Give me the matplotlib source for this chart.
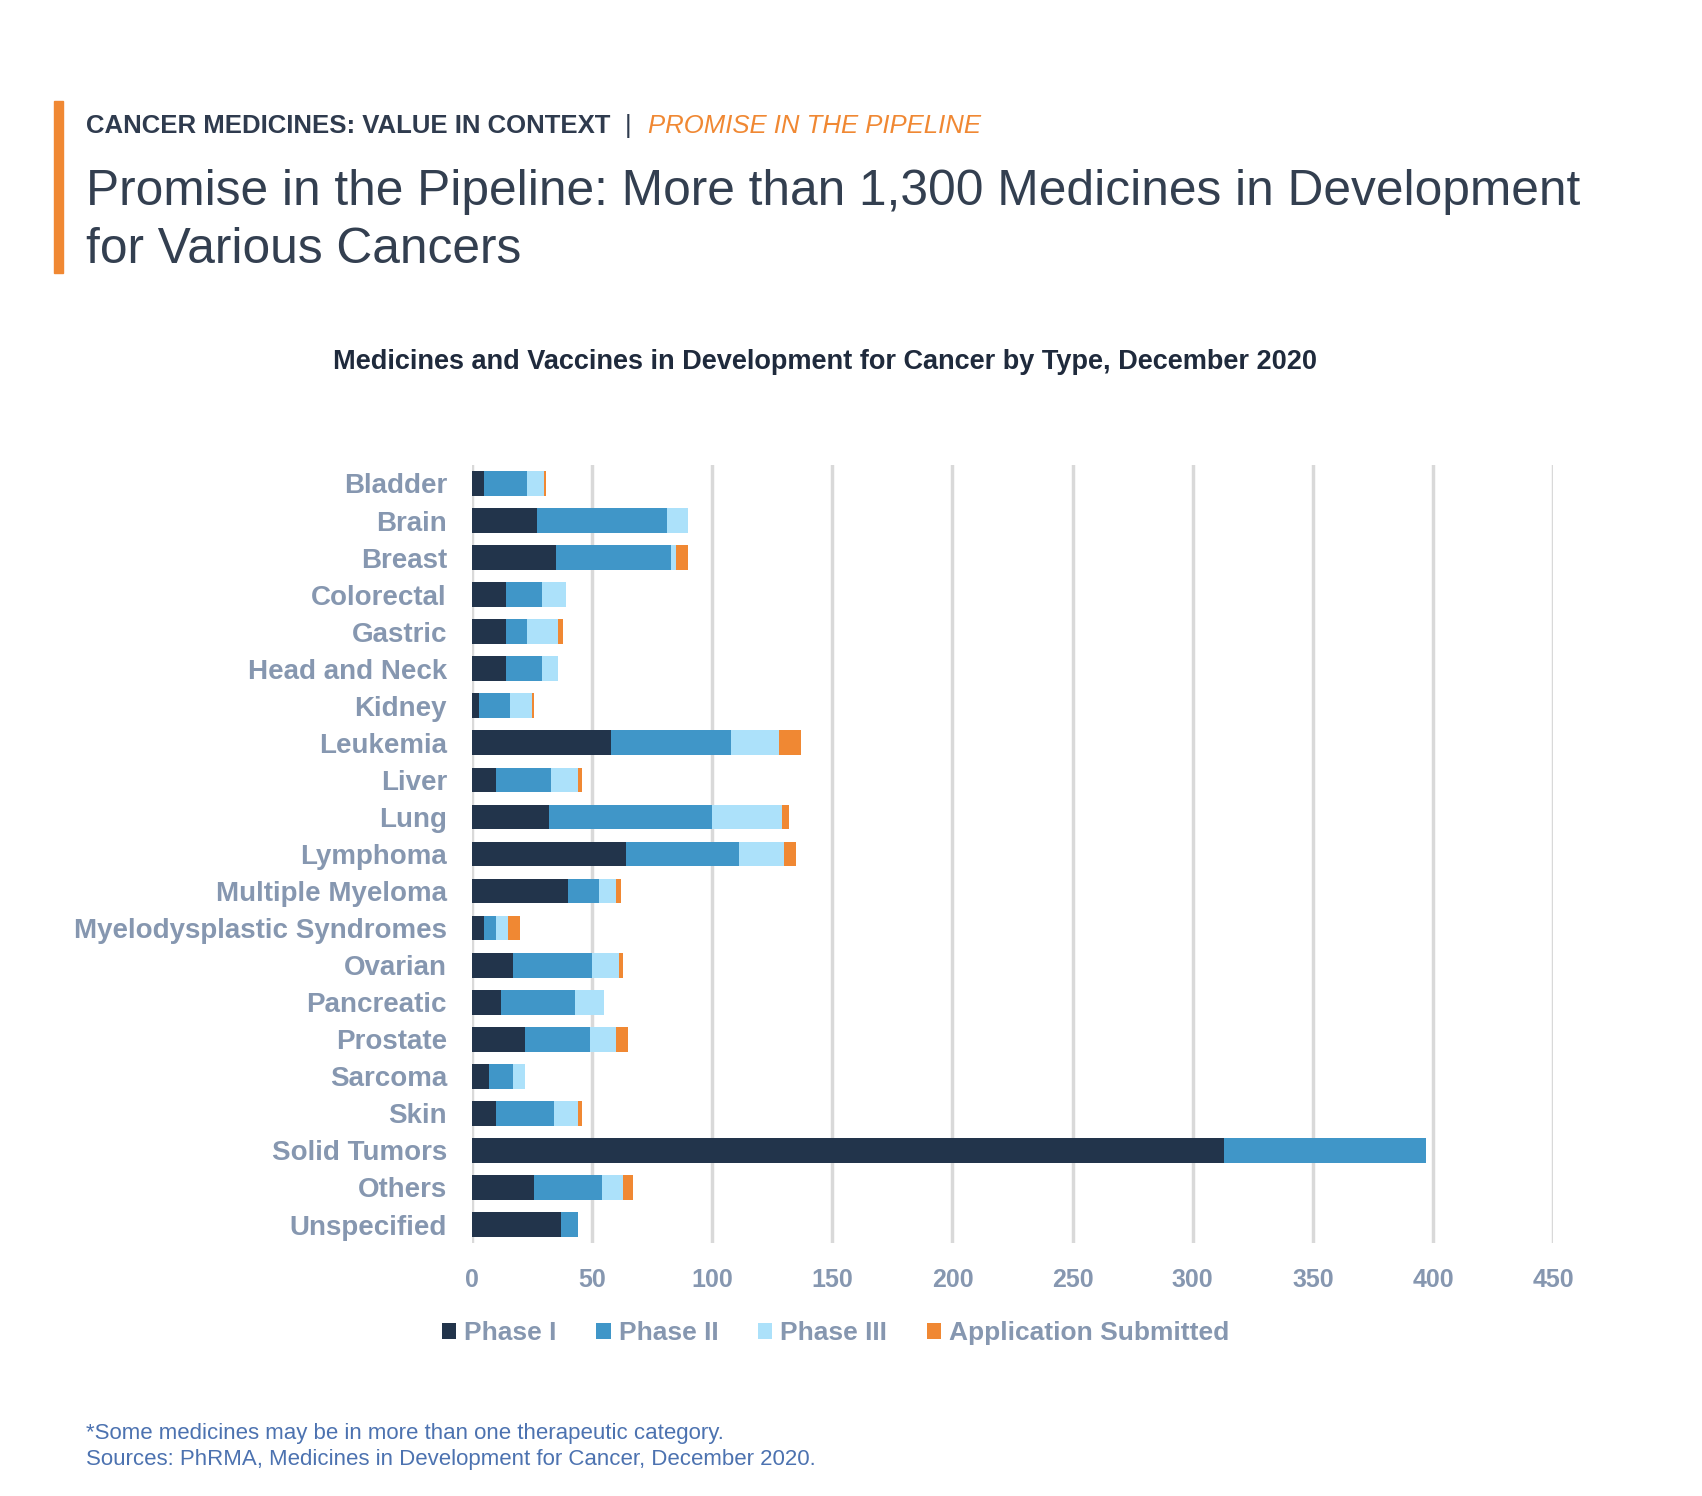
import matplotlib
matplotlib.use("Agg")
import matplotlib.pyplot as plt
import numpy as np

# ----------------------------
# Data
# ----------------------------
cancer_types = ["Bladder", "Brain", "Breast", "Colorectal", "Gastric", "Head and Neck",
                "Kidney", "Leukemia", "Liver", "Lung", "Lymphoma", "Multiple Myeloma",
                "Myelodysplastic Syndromes", "Ovarian", "Pancreatic", "Prostate",
                "Sarcoma", "Skin", "Solid Tumors", "Others", "Unspecified"]
phase_1 = [5, 27, 35, 14, 14, 14, 3, 58, 10, 32, 64, 40, 5, 17, 12, 22, 7, 10, 313, 26, 37]
phase_2 = [18, 54, 48, 15, 9, 15, 13, 50, 23, 68, 47, 13, 5, 33, 31, 27, 10, 24, 84, 28, 7]
phase_3 = [7, 9, 2, 10, 13, 7, 9, 20, 11, 29, 19, 7, 5, 11, 12, 11, 5, 10, 0, 9, 0]
submitted = [1, 0, 5, 0, 2, 0, 1, 9, 2, 3, 5, 2, 5, 2, 0, 5, 0, 2, 0, 4, 0]

series_names = ["Phase I", "Phase II", "Phase III", "Application Submitted"]
series_colors = ["#22344B", "#4096C8", "#ACE1FA", "#F08833"]
x_ticks = [0, 50, 100, 150, 200, 250, 300, 350, 400, 450]

label_gray = "#8697B0"
dark_text = "#2F3B4E"

plt.rcParams["font.family"] = ["Liberation Sans", "DejaVu Sans"]

W, H = 1702, 1496
fig = plt.figure(figsize=(W / 100, H / 100), dpi=100)
ax = fig.add_axes([0.2773, 0.1691, 0.9125 - 0.2773, 0.6892 - 0.1691])

y = np.arange(len(cancer_types))
left = np.zeros(len(cancer_types))
for vals, name, color in zip([phase_1, phase_2, phase_3, submitted], series_names, series_colors):
    vals = np.array(vals, dtype=float)
    ax.barh(y, vals, left=left, height=0.667, color=color, label=name, zorder=3)
    left += vals

ax.set_ylim(len(cancer_types) - 0.5, -0.5)
ax.set_xlim(0, 450)
ax.set_xticks(x_ticks)
ax.set_yticks(y)
ax.set_yticklabels(cancer_types)
ax.grid(axis="x", color="#D9D9D9", linewidth=2.5, zorder=0)
ax.grid(axis="y", visible=False)
for s in ax.spines.values():
    s.set_visible(False)
ax.tick_params(axis="both", length=0)
ax.tick_params(axis="y", pad=18)
ax.tick_params(axis="x", pad=18)
for lab in ax.get_yticklabels():
    lab.set_fontsize(20)
    lab.set_fontweight("bold")
    lab.set_color(label_gray)
for lab in ax.get_xticklabels():
    lab.set_fontsize(18)
    lab.set_fontweight("bold")
    lab.set_color(label_gray)

# legend below the plot
leg = fig.legend(loc="center", bbox_to_anchor=(0.491, 1 - 1333 / H), ncol=4, frameon=False,
                 handlelength=0.55, handleheight=0.55, handletextpad=0.3, columnspacing=1.5,
                 prop={"size": 19, "weight": "bold"})
for t in leg.get_texts():
    t.set_color(label_gray)

# ----------------------------
# Header and titles
# ----------------------------
fig.patches.append(plt.Rectangle((54 / W, 1 - 273 / H), 9 / W, 172 / H,
                                 transform=fig.transFigure, color="#F08833"))
hdr_y = 1 - 126 / H
hdr = fig.text(86 / W, hdr_y, "CANCER MEDICINES: VALUE IN CONTEXT", fontsize=18.5,
               fontweight="bold", color=dark_text, va="center")
fig.canvas.draw()
bb = hdr.get_window_extent()
x_next = (bb.x1 + 14) / W
fig.text(x_next, hdr_y, "|", fontsize=18.5, color=dark_text, va="center")
fig.text(x_next + 24 / W, hdr_y, "PROMISE IN THE PIPELINE", fontsize=18.5,
         style="italic", color="#F08833", va="center")

fig.text(86 / W, 1 - 192 / H,
         "Promise in the Pipeline: More than 1,300 Medicines in Development",
         fontsize=35.7, color="#333F50", va="center")
fig.text(86 / W, 1 - 250 / H, "for Various Cancers",
         fontsize=35.7, color="#333F50", va="center")

fig.text(825 / W, 1 - 362 / H,
         "Medicines and Vaccines in Development for Cancer by Type, December 2020",
         fontsize=19.5, fontweight="bold", color="#1F2A3C", ha="center", va="center")

# ----------------------------
# Footnotes
# ----------------------------
foot_color = "#4C72B0"
fig.text(86 / W, 1 - 1434 / H, "*Some medicines may be in more than one therapeutic category.",
         fontsize=16, color=foot_color, va="center")
fig.text(86 / W, 1 - 1459 / H, "Sources: PhRMA, Medicines in Development for Cancer, December 2020.",
         fontsize=16, color=foot_color, va="center")

fig.savefig("out.png", dpi=100)
plt.close(fig)
